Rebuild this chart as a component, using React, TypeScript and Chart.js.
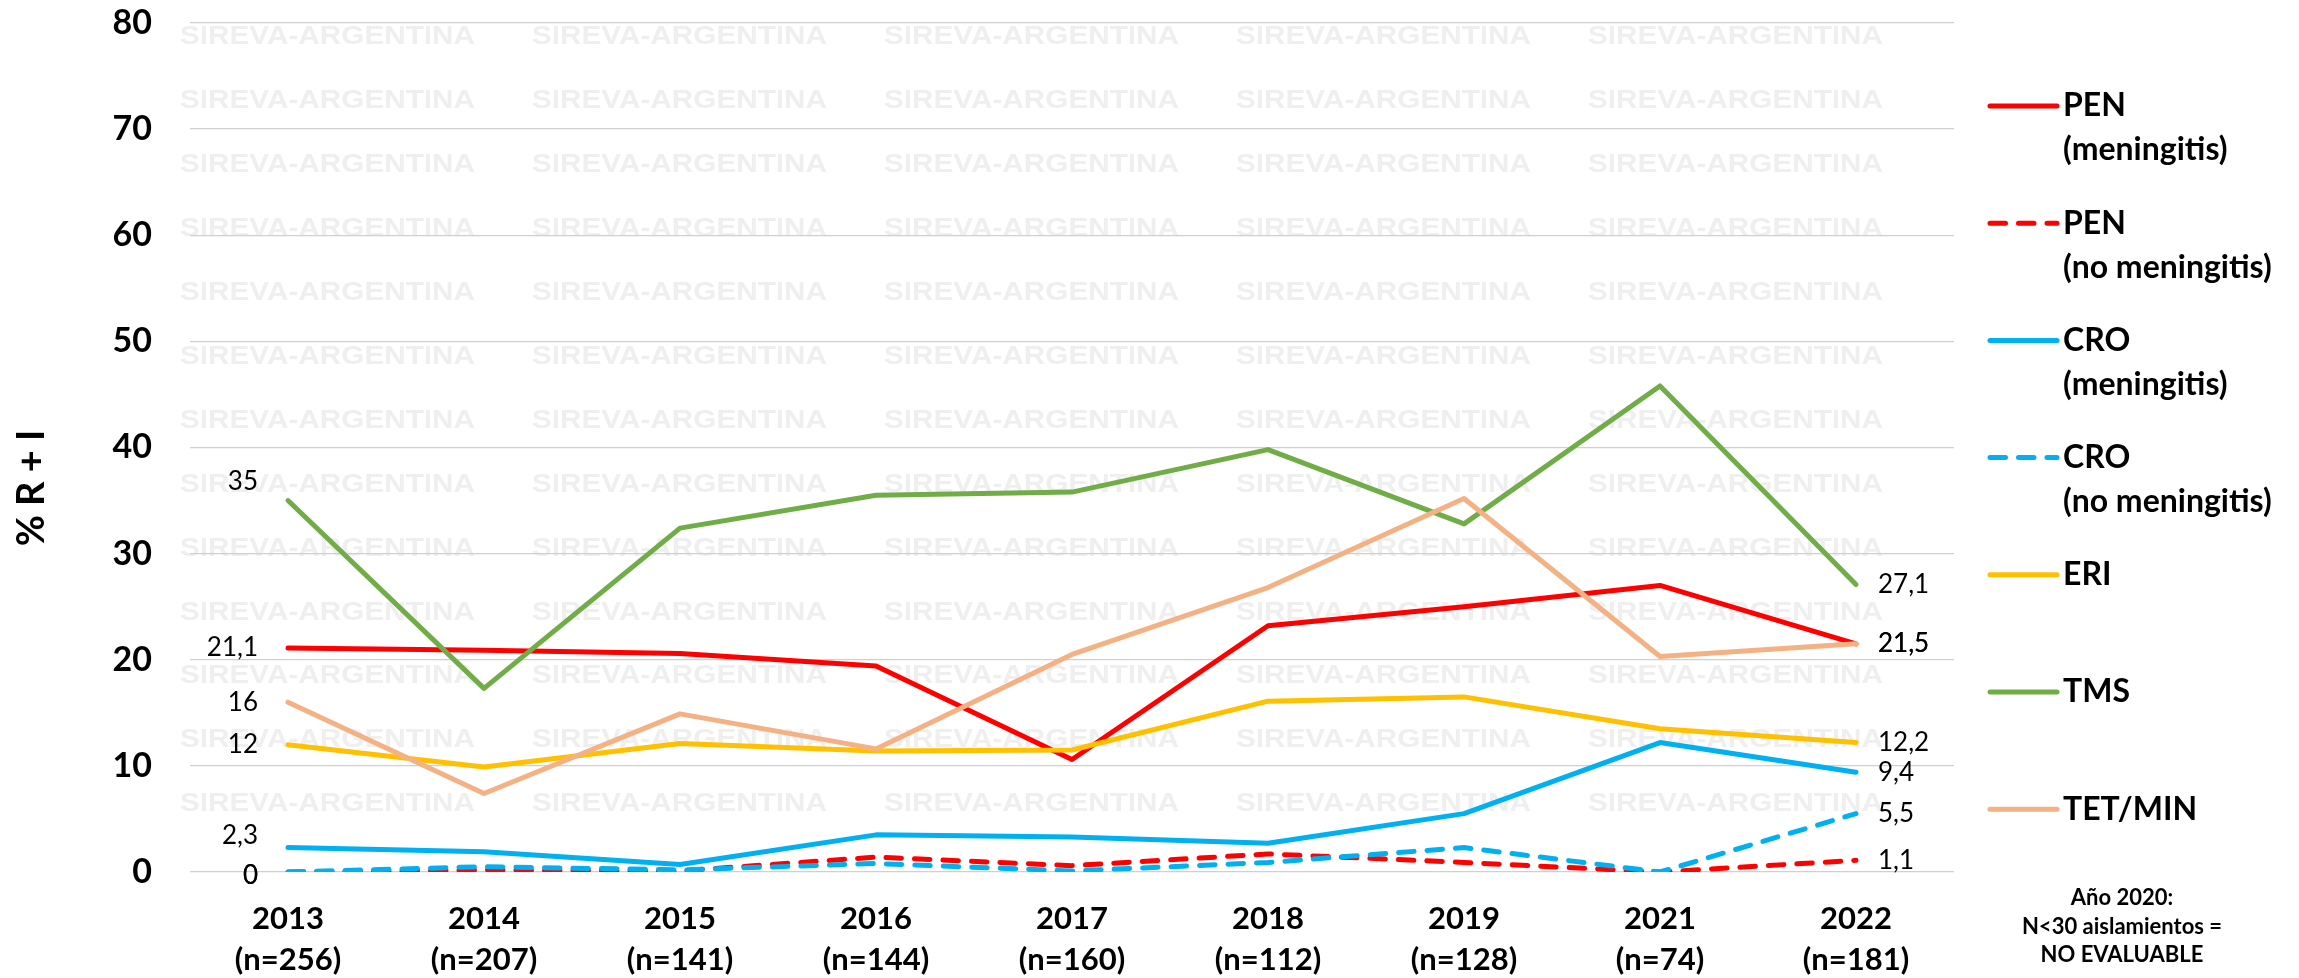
import React, { useEffect, useRef } from 'react';
import { Chart, registerables } from 'chart.js';

Chart.register(...registerables);

// ---------- data ----------
const years = ['2013', '2014', '2015', '2016', '2017', '2018', '2019', '2021', '2022'];
const sampleSizes = ['(n=256)', '(n=207)', '(n=141)', '(n=144)', '(n=160)', '(n=112)', '(n=128)', '(n=74)', '(n=181)'];

const penMeningitis = [21.1, 20.9, 20.6, 19.4, 10.6, 23.2, 25.0, 27.0, 21.5];
const penNoMeningitis = [0, 0.2, 0.1, 1.4, 0.6, 1.7, 0.9, 0, 1.1];
const croMeningitis = [2.3, 1.9, 0.7, 3.5, 3.3, 2.7, 5.5, 12.2, 9.4];
const croNoMeningitis = [0, 0.5, 0.2, 0.8, 0.1, 0.9, 2.3, 0, 5.5];
const eri = [12, 9.9, 12.1, 11.4, 11.5, 16.1, 16.5, 13.5, 12.2];
const tms = [35, 17.3, 32.4, 35.5, 35.8, 39.8, 32.8, 45.8, 27.1];
const tetMin = [16, 7.4, 14.9, 11.6, 20.5, 26.8, 35.2, 20.3, 21.5];

const seriesNames = [
  ['PEN', '(meningitis)'],
  ['PEN', '(no meningitis)'],
  ['CRO', '(meningitis)'],
  ['CRO', '(no meningitis)'],
  ['ERI'],
  ['TMS'],
  ['TET/MIN'],
];
const seriesValues = [penMeningitis, penNoMeningitis, croMeningitis, croNoMeningitis, eri, tms, tetMin];

const yMin = 0;
const yMax = 80;
const yStep = 10;
const yAxisTitle = '% R + I';
const footnoteLines = ['Año 2020:', 'N<30 aislamientos =', 'NO EVALUABLE'];
const watermarkText = 'SIREVA-ARGENTINA';

// ---------- styles ----------
const DASH = [15.5, 13];
const seriesStyles = [
  { color: '#FF0000', dash: [] as number[], firstLabelDy: 0 },
  { color: '#FF0000', dash: DASH, firstLabelDy: 4 },
  { color: '#00B0F0', dash: [] as number[], firstLabelDy: -12 },
  { color: '#00B0F0', dash: DASH, firstLabelDy: 4 },
  { color: '#FFC000', dash: [] as number[], firstLabelDy: 0 },
  { color: '#70AD47', dash: [] as number[], firstLabelDy: -19 },
  { color: '#F4B183', dash: [] as number[], firstLabelDy: 0 },
];

const FONT = 'Lato, "Open Sans", sans-serif';
const fmt = (v: number) => String(v).replace('.', ',');

const decorPlugin = {
  id: 'decor',
  beforeDraw(chart: any) {
    const ctx = chart.ctx;
    ctx.save();
    ctx.fillStyle = '#ffffff';
    ctx.fillRect(0, 0, chart.width, chart.height);
    ctx.font = 'bold 28px "Liberation Sans", Arial, sans-serif';
    ctx.fillStyle = '#efefef';
    ctx.textBaseline = 'middle';
    ctx.textAlign = 'left';
    const w = ctx.measureText(watermarkText).width;
    const sx = 295 / w;
    for (let r = 0; r < 13; r++) {
      const y = 37.5 + r * 63.9;
      for (let c = 0; c < 5; c++) {
        const x = 180 + c * 352;
        ctx.save();
        ctx.translate(x, y);
        ctx.scale(sx, 0.9);
        ctx.fillText(watermarkText, 0, 0);
        ctx.restore();
      }
    }
    ctx.restore();
  },
  afterDatasetsDraw(chart: any) {
    const ctx = chart.ctx;
    ctx.save();
    ctx.font = `26px ${FONT}`;
    ctx.fillStyle = '#000';
    ctx.textBaseline = 'middle';
    chart.data.datasets.forEach((ds: any, i: number) => {
      const meta = chart.getDatasetMeta(i);
      const first = meta.data[0];
      const last = meta.data[meta.data.length - 1];
      const style = seriesStyles[i];
      ctx.textAlign = 'right';
      ctx.fillText(fmt(ds.data[0]), first.x - 30, first.y + style.firstLabelDy);
      ctx.textAlign = 'left';
      ctx.fillText(fmt(ds.data[ds.data.length - 1]), last.x + 22, last.y);
    });
    ctx.restore();
  },
  afterDraw(chart: any) {
    const ctx = chart.ctx;
    ctx.save();
    // y axis title
    ctx.font = `bold 38px ${FONT}`;
    ctx.fillStyle = '#000';
    ctx.textAlign = 'center';
    ctx.textBaseline = 'middle';
    ctx.translate(32, 488);
    ctx.rotate(-Math.PI / 2);
    ctx.fillText(yAxisTitle, 0, 0);
    ctx.restore();

    // legend
    ctx.save();
    ctx.lineWidth = 5;
    ctx.lineCap = 'round';
    ctx.font = `bold 32px ${FONT}`;
    ctx.textAlign = 'left';
    ctx.textBaseline = 'middle';
    seriesNames.forEach((lines, i) => {
      const y = 106 + i * 117.2;
      const st = seriesStyles[i];
      ctx.strokeStyle = st.color;
      ctx.setLineDash(st.dash);
      ctx.beginPath();
      ctx.moveTo(1990, y);
      ctx.lineTo(2057, y);
      ctx.stroke();
      ctx.setLineDash([]);
      ctx.fillStyle = '#000';
      lines.forEach((t, j) => ctx.fillText(t, 2063, y + j * 44));
    });

    // footnote
    ctx.font = `bold 22px ${FONT}`;
    ctx.textAlign = 'center';
    footnoteLines.forEach((t, j) => ctx.fillText(t, 2122, 898 + j * 28.5));
    ctx.restore();
  },
};

export default function App() {
  const canvasRef = useRef<HTMLCanvasElement | null>(null);

  useEffect(() => {
    document.body.style.margin = '0';
    let chart: Chart | null = null;
    let cancelled = false;

    const build = () => {
      if (cancelled || !canvasRef.current) return;
      chart = new Chart(canvasRef.current, {
        type: 'line',
        data: {
          labels: years.map((y, i) => [y, sampleSizes[i]]),
          datasets: seriesValues.map((vals, i) => ({
            label: seriesNames[i].join(' '),
            data: vals,
            borderColor: seriesStyles[i].color,
            backgroundColor: seriesStyles[i].color,
            borderDash: seriesStyles[i].dash,
            borderWidth: 5,
            borderCapStyle: 'round',
            borderJoinStyle: 'round',
            pointRadius: 0,
            tension: 0,
            fill: false,
            order: seriesValues.length - i,
          })),
        },
        options: {
          responsive: false,
          animation: false,
          events: [],
          layout: { padding: { top: 23, right: 345, left: 0, bottom: 0 } },
          plugins: {
            legend: { display: false },
            tooltip: { enabled: false },
            title: { display: false },
          },
          scales: {
            x: {
              type: 'category',
              offset: true,
              grid: { display: false, drawTicks: false },
              border: { display: false },
              ticks: {
                color: '#000',
                font: { family: FONT, size: 31, weight: 'bold', lineHeight: 41 / 31 },
                padding: 26.5,
                maxRotation: 0,
                autoSkip: false,
              },
              afterFit: (s: any) => {
                s.height = 106;
                s.paddingLeft = 0;
                s.paddingRight = 0;
              },
            },
            y: {
              min: yMin,
              max: yMax,
              grid: { color: '#d0d0d0', lineWidth: 1.3, drawTicks: false },
              border: { display: false },
              ticks: {
                stepSize: yStep,
                color: '#000',
                font: { family: FONT, size: 34, weight: 'bold' },
                padding: 38,
              },
              afterFit: (s: any) => {
                s.width = 190;
                s.paddingTop = 0;
                s.paddingBottom = 0;
              },
            },
          },
        },
        plugins: [decorPlugin],
      } as any);
    };

    const fontsReady = (document as any).fonts
      ? Promise.all([
          (document as any).fonts.load(`bold 29px Lato`),
          (document as any).fonts.load(`25px Lato`),
          (document as any).fonts.load(`bold 28px "Liberation Sans"`),
        ]).catch(() => null)
      : Promise.resolve(null);
    fontsReady.then(build);

    return () => {
      cancelled = true;
      if (chart) chart.destroy();
    };
  }, []);

  return (
    <div style={{ width: 2299, height: 978, position: 'relative' }}>
      <canvas ref={canvasRef} width={2299} height={978} style={{ width: 2299, height: 978, display: 'block' }} />
    </div>
  );
}
